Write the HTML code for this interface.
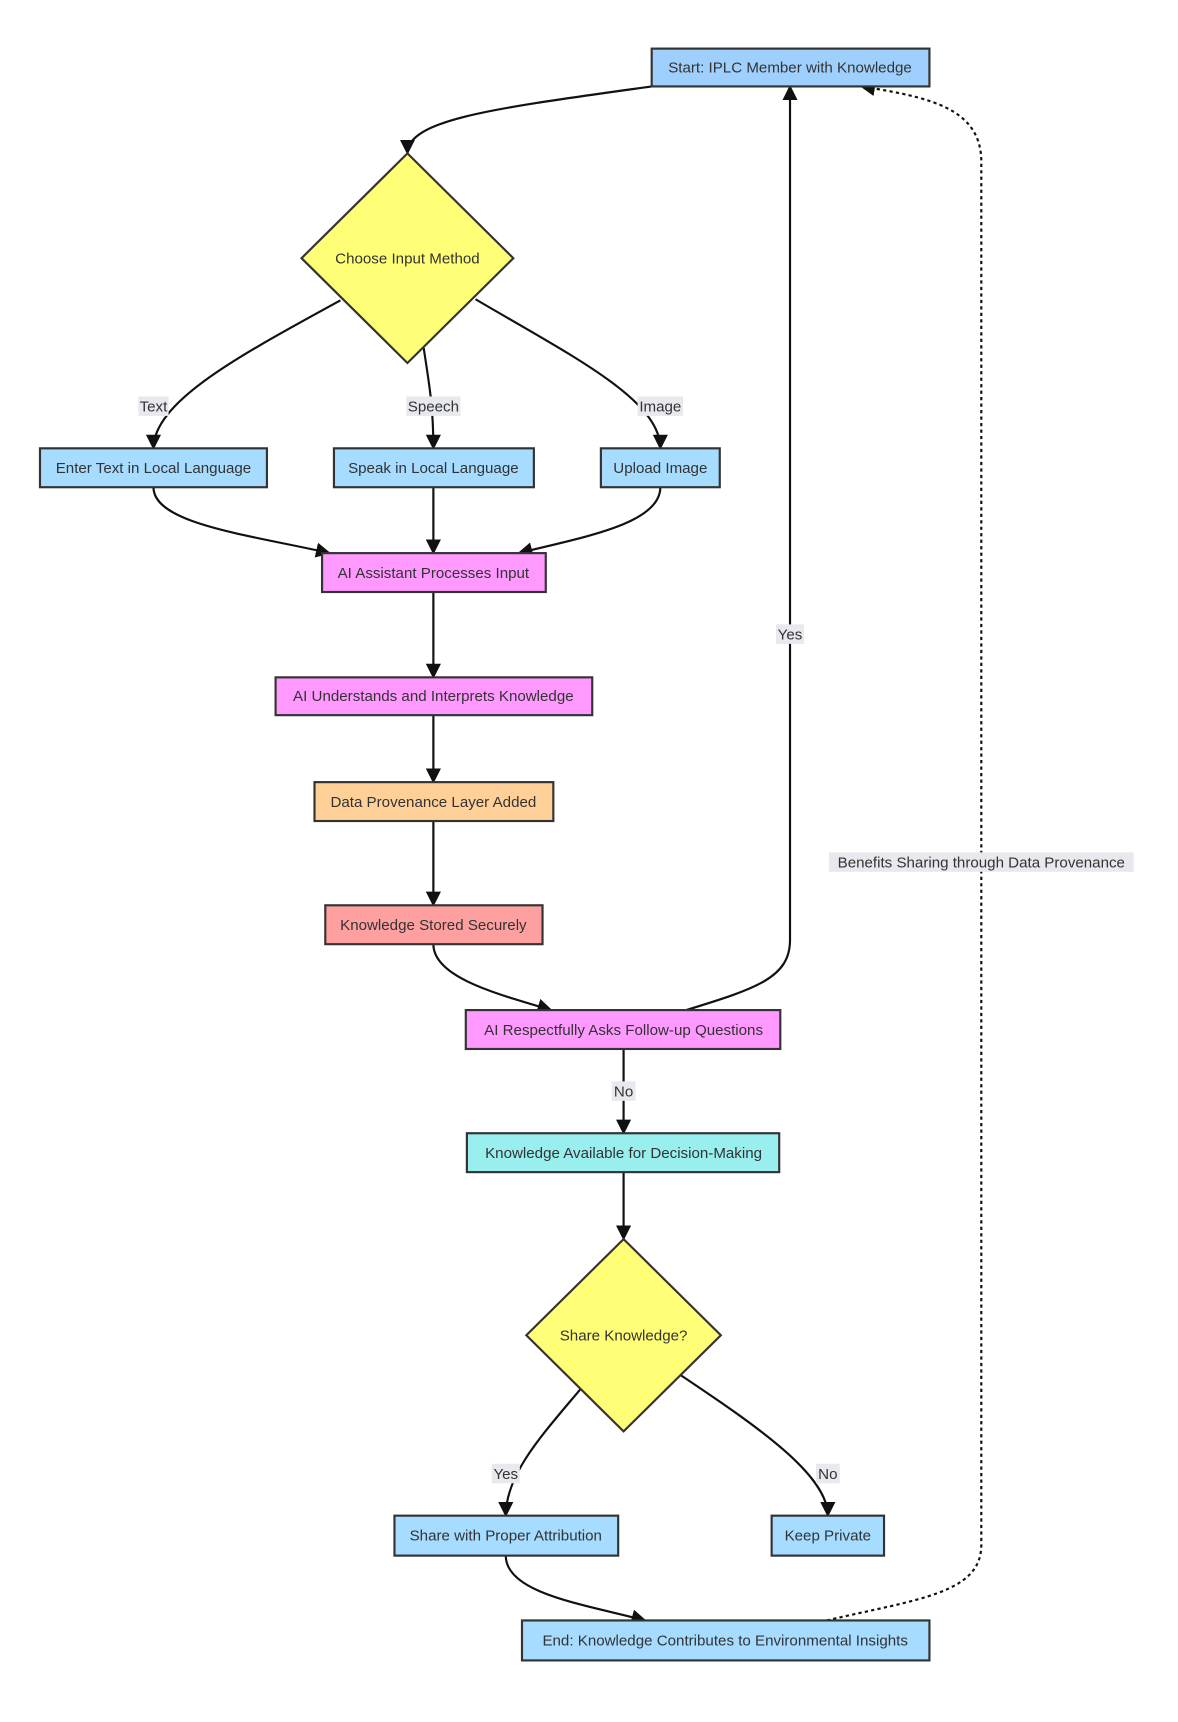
<!DOCTYPE html>
<html><head><meta charset="utf-8"><style>
html,body{margin:0;padding:0;background:#fff;}
svg{display:block;}
text{font-family:"Liberation Sans",Arial,sans-serif;font-size:14px;fill:#333;}
.n{stroke:#333;stroke-width:2;}
.e{fill:none;stroke:#111;stroke-width:2;}
.lb{fill:#e8e8ef;}
</style></head><body>
<svg width="1178" height="1722" viewBox="0 0 1090 1594" preserveAspectRatio="none" xmlns="http://www.w3.org/2000/svg">
<defs>
<marker id="a" viewBox="0 0 10 10" refX="9" refY="5" markerWidth="7" markerHeight="7" orient="auto-start-reverse" markerUnits="userSpaceOnUse"><path d="M0,0 L10,5 L0,10 z" fill="#111"/></marker>
<marker id="b" viewBox="0 0 10 10" refX="9" refY="5" markerWidth="14" markerHeight="14" orient="auto" markerUnits="userSpaceOnUse"><path d="M0,0 L10,5 L0,10 z" fill="#111"/></marker>
</defs>
<!-- edges -->
<path class="e" marker-end="url(#b)" d="M603,80 C460,100 377,110 377,142"/>
<path class="e" marker-end="url(#b)" d="M315,278 C230,325 142,370 142,415"/>
<path class="e" marker-end="url(#b)" d="M392,322 C398,360 401,380 401,415"/>
<path class="e" marker-end="url(#b)" d="M440,277 C530,330 611,370 611,415"/>
<path class="e" marker-end="url(#b)" d="M142,451 C142,485 230,495 305,512"/>
<path class="e" marker-end="url(#b)" d="M401,451 L401,512"/>
<path class="e" marker-end="url(#b)" d="M611,451 C611,485 540,497 480,512"/>
<path class="e" marker-end="url(#b)" d="M401,548 L401,627"/>
<path class="e" marker-end="url(#b)" d="M401,662 L401,724"/>
<path class="e" marker-end="url(#b)" d="M401,760 L401,838"/>
<path class="e" marker-end="url(#b)" d="M401,874 C401,905 460,920 510,935"/>
<path class="e" marker-end="url(#b)" d="M635,935 C700,915 731,905 731,870 L731,80"/>
<path class="e" marker-end="url(#b)" d="M577,971 L577,1049"/>
<path class="e" marker-end="url(#b)" d="M577,1085 L577,1147"/>
<path class="e" marker-end="url(#b)" d="M537,1286 C500,1330 468,1365 468,1403"/>
<path class="e" marker-end="url(#b)" d="M630,1273 C700,1320 766,1365 766,1403"/>
<path class="e" marker-end="url(#b)" d="M468,1440 C468,1475 540,1485 597,1500"/>
<path class="e" stroke-dasharray="3,3" marker-end="url(#b)" d="M765,1500 C850,1480 908,1475 908,1430 L908,150 C908,100 860,90 797,80"/>
<!-- edge labels -->
<rect class="lb" x="128" y="367" width="28" height="18"/><text x="142" y="381" text-anchor="middle">Text</text>
<rect class="lb" x="376" y="367" width="50" height="18"/><text x="401" y="381" text-anchor="middle">Speech</text>
<rect class="lb" x="590" y="367" width="42" height="18"/><text x="611" y="381" text-anchor="middle">Image</text>
<rect class="lb" x="718" y="578" width="26" height="18"/><text x="731" y="592" text-anchor="middle">Yes</text>
<rect class="lb" x="566" y="1001" width="22" height="18"/><text x="577" y="1015" text-anchor="middle">No</text>
<rect class="lb" x="455" y="1355" width="26" height="18"/><text x="468" y="1369" text-anchor="middle">Yes</text>
<rect class="lb" x="755" y="1355" width="22" height="18"/><text x="766" y="1369" text-anchor="middle">No</text>
<rect class="lb" x="767" y="789" width="282" height="18"/><text x="908" y="803" text-anchor="middle">Benefits Sharing through Data Provenance</text>
<!-- nodes -->
<rect class="n" x="603" y="45" width="257" height="35" fill="#9fcffd"/><text x="731" y="67" text-anchor="middle">Start: IPLC Member with Knowledge</text>
<polygon class="n" points="377,142 475,239 377,336 279,239" fill="#ffff77"/><text x="377" y="244" text-anchor="middle">Choose Input Method</text>
<rect class="n" x="37" y="415" width="210" height="36" fill="#a5dcff"/><text x="142" y="438" text-anchor="middle">Enter Text in Local Language</text>
<rect class="n" x="309" y="415" width="185" height="36" fill="#a5dcff"/><text x="401" y="438" text-anchor="middle">Speak in Local Language</text>
<rect class="n" x="556" y="415" width="110" height="36" fill="#a5dcff"/><text x="611" y="438" text-anchor="middle">Upload Image</text>
<rect class="n" x="298" y="512" width="207" height="36" fill="#ff99ff"/><text x="401" y="535" text-anchor="middle">AI Assistant Processes Input</text>
<rect class="n" x="255" y="627" width="293" height="35" fill="#ff99ff"/><text x="401" y="649" text-anchor="middle">AI Understands and Interprets Knowledge</text>
<rect class="n" x="291" y="724" width="221" height="36" fill="#ffd199"/><text x="401" y="747" text-anchor="middle">Data Provenance Layer Added</text>
<rect class="n" x="301" y="838" width="201" height="36" fill="#ffa0a0"/><text x="401" y="861" text-anchor="middle">Knowledge Stored Securely</text>
<rect class="n" x="431" y="935" width="291" height="36" fill="#ff99ff"/><text x="577" y="958" text-anchor="middle">AI Respectfully Asks Follow-up Questions</text>
<rect class="n" x="432" y="1049" width="289" height="36" fill="#99eeee"/><text x="577" y="1072" text-anchor="middle">Knowledge Available for Decision-Making</text>
<polygon class="n" points="577,1147 667,1236 577,1325 487,1236" fill="#ffff77"/><text x="577" y="1241" text-anchor="middle">Share Knowledge?</text>
<rect class="n" x="365" y="1403" width="207" height="37" fill="#a5dcff"/><text x="468" y="1426" text-anchor="middle">Share with Proper Attribution</text>
<rect class="n" x="714" y="1403" width="104" height="37" fill="#a5dcff"/><text x="766" y="1426" text-anchor="middle">Keep Private</text>
<rect class="n" x="483" y="1500" width="377" height="37" fill="#a5dcff"/><text x="671" y="1523" text-anchor="middle">End: Knowledge Contributes to Environmental Insights</text>
</svg>
</body></html>
